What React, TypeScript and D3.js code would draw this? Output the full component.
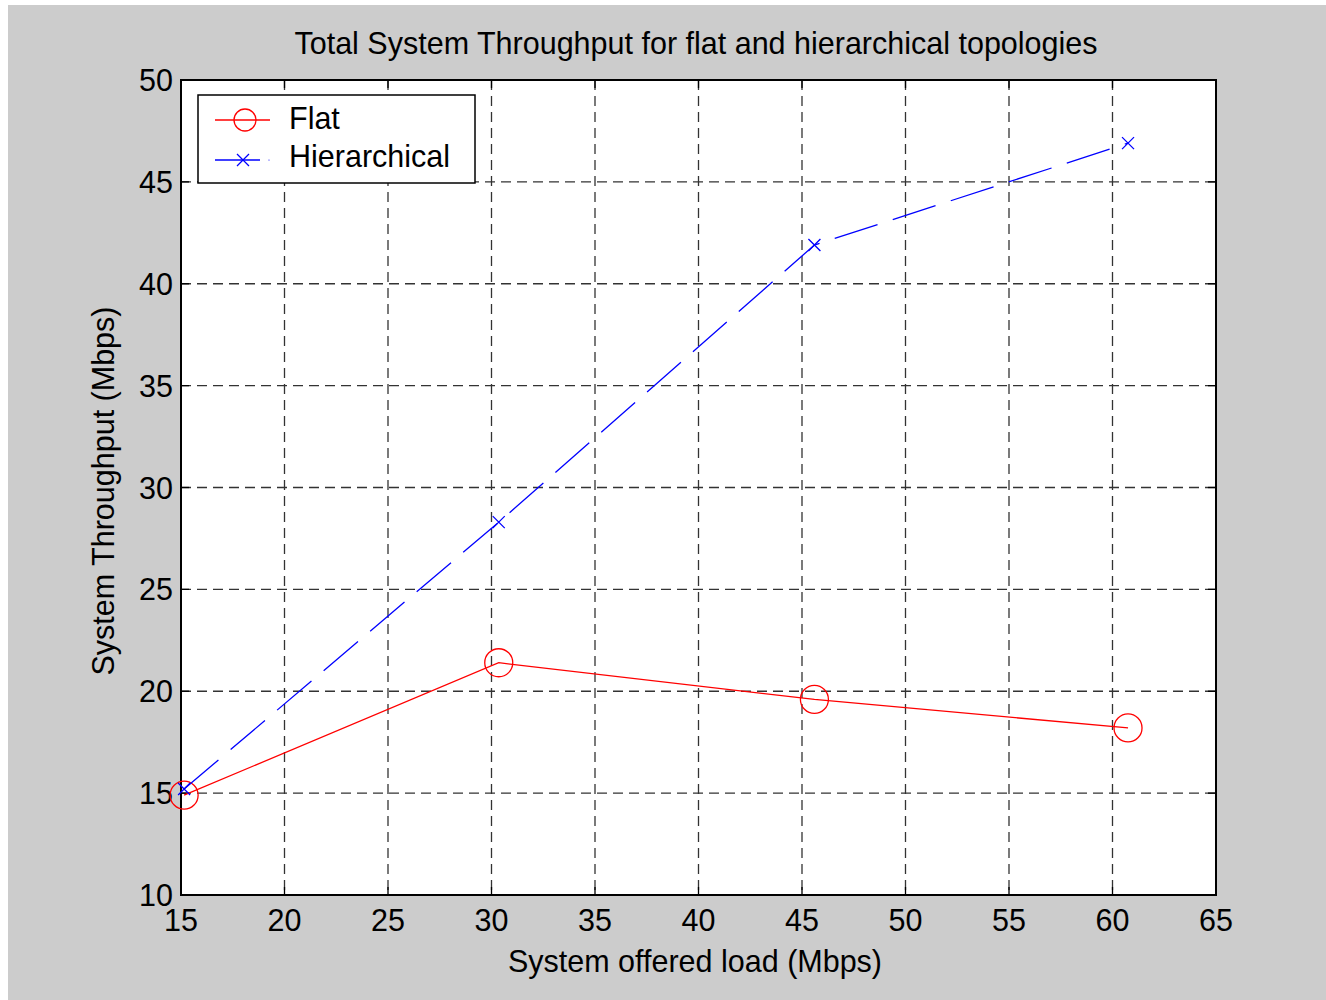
import { useEffect, useRef } from 'react'
import * as d3 from 'd3'

const loads = [15.15, 30.35, 45.6, 60.75]
const flat = [14.9, 21.4, 19.6, 18.2]
const hierarchical = [15.2, 28.3, 41.9, 46.9]
const xTicks = [15, 20, 25, 30, 35, 40, 45, 50, 55, 60, 65]
const yTicks = [10, 15, 20, 25, 30, 35, 40, 45, 50]

const W = 1326
const H = 1000
const font = '"Liberation Sans", Arial, sans-serif'
const fs = 30.5

export default function App() {
  const ref = useRef<SVGSVGElement>(null)

  useEffect(() => {
    const svg = d3.select(ref.current)
    svg.selectAll('*').remove()

    svg.append('rect').attr('width', W).attr('height', H).attr('fill', '#fff')
    svg.append('rect').attr('x', 8).attr('y', 5).attr('width', W - 8).attr('height', H - 5).attr('fill', '#cccccc')

    const m = { left: 181, right: 1216, top: 80, bottom: 895 }
    const x = d3.scaleLinear().domain([15, 65]).range([m.left, m.right])
    const y = d3.scaleLinear().domain([10, 50]).range([m.bottom, m.top])

    svg.append('rect')
      .attr('x', m.left).attr('y', m.top)
      .attr('width', m.right - m.left).attr('height', m.bottom - m.top)
      .attr('fill', '#fff')

    // grid
    const grid = svg.append('g').attr('stroke', '#333').attr('stroke-width', 1.3).attr('stroke-dasharray', '10 6')
    xTicks.slice(1, -1).forEach((t) => {
      grid.append('line').attr('x1', x(t)).attr('x2', x(t)).attr('y1', m.top).attr('y2', m.bottom)
    })
    yTicks.slice(1, -1).forEach((t) => {
      grid.append('line').attr('y1', y(t)).attr('y2', y(t)).attr('x1', m.left).attr('x2', m.right)
    })

    // inner ticks
    const ticks = svg.append('g').attr('stroke', '#000').attr('stroke-width', 1.3)
    xTicks.forEach((t) => {
      ticks.append('line').attr('x1', x(t)).attr('x2', x(t)).attr('y1', m.bottom).attr('y2', m.bottom - 8)
      ticks.append('line').attr('x1', x(t)).attr('x2', x(t)).attr('y1', m.top).attr('y2', m.top + 8)
    })
    yTicks.forEach((t) => {
      ticks.append('line').attr('y1', y(t)).attr('y2', y(t)).attr('x1', m.left).attr('x2', m.left + 8)
      ticks.append('line').attr('y1', y(t)).attr('y2', y(t)).attr('x1', m.right).attr('x2', m.right - 8)
    })

    svg.append('rect')
      .attr('x', m.left).attr('y', m.top)
      .attr('width', m.right - m.left).attr('height', m.bottom - m.top)
      .attr('fill', 'none').attr('stroke', '#000').attr('stroke-width', 2)

    // tick labels
    const lab = svg.append('g').attr('font-family', font).attr('font-size', fs).attr('fill', '#000')
    xTicks.forEach((t) => {
      lab.append('text').attr('x', x(t)).attr('y', 931).attr('text-anchor', 'middle').text(t)
    })
    yTicks.forEach((t) => {
      lab.append('text').attr('x', 173).attr('y', y(t) + 11).attr('text-anchor', 'end').text(t)
    })

    // titles
    svg.append('text').attr('x', 696).attr('y', 54).attr('text-anchor', 'middle')
      .attr('font-family', font).attr('font-size', fs).text('Total System Throughput for flat and hierarchical topologies')
    svg.append('text').attr('x', 695).attr('y', 972).attr('text-anchor', 'middle')
      .attr('font-family', font).attr('font-size', fs).text('System offered load (Mbps)')
    svg.append('text').attr('transform', `translate(114,${491}) rotate(-90)`)
      .attr('text-anchor', 'middle').attr('font-family', font).attr('font-size', fs).text('System Throughput (Mbps)')

    const line = d3.line<number>().x((_, i) => x(loads[i])).y((d) => y(d))

    // flat
    svg.append('path').datum(flat).attr('d', line).attr('fill', 'none').attr('stroke', '#ff0000').attr('stroke-width', 1.3)
    svg.append('g').selectAll('circle').data(flat).enter().append('circle')
      .attr('cx', (_, i) => x(loads[i])).attr('cy', (d) => y(d)).attr('r', 14)
      .attr('fill', 'none').attr('stroke', '#ff0000').attr('stroke-width', 1.3)

    // hierarchical
    svg.append('path').datum(hierarchical).attr('d', line).attr('fill', 'none').attr('stroke', '#0000ff')
      .attr('stroke-width', 1.3).attr('stroke-dasharray', '45 16')
    const cross = (g: d3.Selection<SVGGElement, unknown, null, undefined>, cx: number, cy: number) => {
      g.append('path').attr('d', `M${cx - 6},${cy - 6}L${cx + 6},${cy + 6}M${cx - 6},${cy + 6}L${cx + 6},${cy - 6}`)
        .attr('stroke', '#0000ff').attr('stroke-width', 1.3)
    }
    const xg = svg.append('g')
    hierarchical.forEach((d, i) => cross(xg, x(loads[i]), y(d)))

    // legend
    const lg = svg.append('g')
    lg.append('rect').attr('x', 198).attr('y', 95).attr('width', 277).attr('height', 88)
      .attr('fill', '#fff').attr('stroke', '#000').attr('stroke-width', 1.5)
    lg.append('line').attr('x1', 215).attr('x2', 270).attr('y1', 120).attr('y2', 120).attr('stroke', '#ff0000').attr('stroke-width', 1.3)
    lg.append('circle').attr('cx', 245).attr('cy', 120).attr('r', 11).attr('fill', 'none').attr('stroke', '#ff0000').attr('stroke-width', 1.3)
    lg.append('line').attr('x1', 215).attr('x2', 260).attr('y1', 160).attr('y2', 160).attr('stroke', '#0000ff').attr('stroke-width', 1.3)
    lg.append('circle').attr('cx', 269).attr('cy', 160).attr('r', 0.6).attr('fill', '#0000ff')
    cross(lg, 243, 160)
    lg.append('text').attr('x', 289).attr('y', 129).attr('font-family', font).attr('font-size', fs).text('Flat')
    lg.append('text').attr('x', 289).attr('y', 167).attr('font-family', font).attr('font-size', fs).text('Hierarchical')
  }, [])

  return <svg ref={ref} width={W} height={H} style={{ position: 'absolute', left: 0, top: 0 }} />
}
